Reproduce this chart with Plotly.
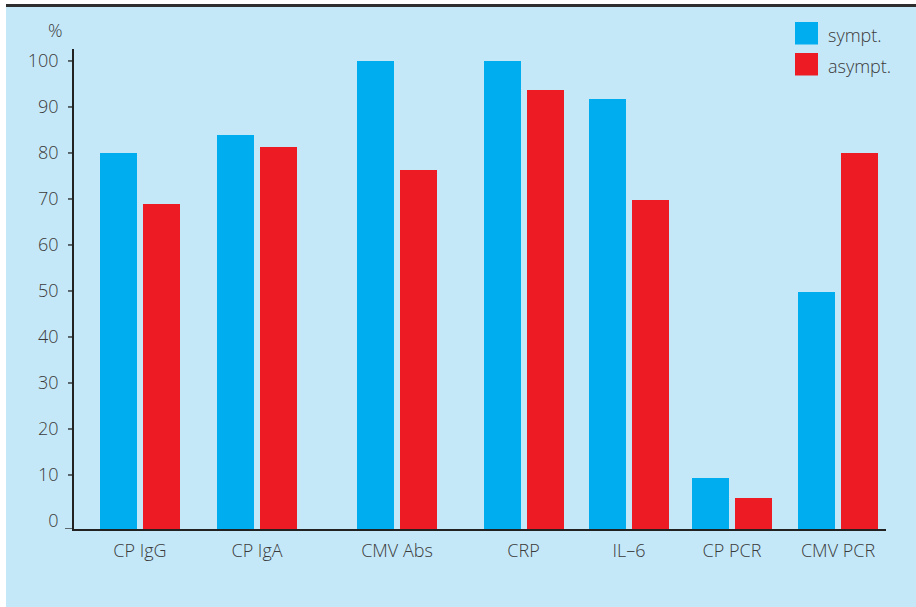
import plotly.graph_objects as go

# ---- data -------------------------------------------------------------
categories = ["CP IgG", "CP IgA", "CMV Abs", "CRP", "IL\u20136", "CP PCR", "CMV PCR"]
sympt = [80, 84, 100, 100, 91.7, 9.3, 49.8]
asympt = [69, 81.3, 76.3, 93.7, 69.8, 5, 80]
y_ticks = [0, 10, 20, 30, 40, 50, 60, 70, 80, 90, 100]
series_names = ["sympt.", "asympt."]

# ---- layout helpers ----------------------------------------------------
W, H = 916, 607
L, R, T, B = 74, 30, 49, 78            # plot area margins (px)
PW, PH = W - L - R, H - T - B

# group centres along the x axis (axis units == px inside the plot area)
group_x = [66, 183, 323, 449.5, 555, 658, 764]
half_gap = 21.5
bar_w = 37

Y_MIN, Y_MAX = -1.74, 102.6            # axis baseline sits a little below 0

BLUE = "#00aeef"
RED = "#ed1c24"
BG = "#c5e8f8"
TXT = "#3a3a3a"
FONT = "Open Sans"
FS = 18
FW = 300


def px_x(px):
    return (px - L) / PW


def px_y(py):
    return (H - B - py) / PH


fig = go.Figure()

for name, vals, color, sign in [
    (series_names[0], sympt, BLUE, -1),
    (series_names[1], asympt, RED, 1),
]:
    fig.add_trace(
        go.Bar(
            name=name,
            x=[gx + sign * half_gap for gx in group_x],
            y=[v - Y_MIN for v in vals],
            base=Y_MIN,
            width=bar_w,
            marker=dict(color=color, line=dict(width=0)),
            showlegend=False,
            hovertext=[f"{c}: {v}%" for c, v in zip(categories, vals)],
            hoverinfo="text",
        )
    )

shapes = [
    # panel background
    dict(type="rect", xref="paper", yref="paper", layer="below",
         x0=px_x(6), x1=px_x(W), y0=px_y(H), y1=px_y(7),
         fillcolor=BG, line=dict(width=0)),
    # rule along the top
    dict(type="line", xref="paper", yref="paper",
         x0=px_x(6), x1=px_x(W), y0=px_y(5.5), y1=px_y(5.5),
         line=dict(color="#2e2e2e", width=3)),
]

# y tick marks (0 sits on the baseline)
for v in y_ticks:
    yv = Y_MIN if v == 0 else v
    x0 = px_x(65) if v == 0 else px_x(68)
    shapes.append(dict(type="line", xref="paper", yref="y",
                       x0=x0, x1=0, y0=yv, y1=yv,
                       line=dict(color="#222222", width=1.3)))

font = dict(family=FONT, size=FS, color=TXT, weight=FW)

# legend swatches
legend_rows = [(series_names[0], BLUE, 22), (series_names[1], RED, 53)]
annotations = []
for name, color, top in legend_rows:
    shapes.append(dict(type="rect", xref="paper", yref="paper",
                       x0=px_x(795), x1=px_x(818), y0=px_y(top + 22.5), y1=px_y(top),
                       fillcolor=color, line=dict(width=0)))
    annotations.append(dict(xref="paper", yref="paper", x=px_x(826), y=px_y(top + 13),
                            text=name, showarrow=False, xanchor="left", yanchor="middle",
                            font=font))

annotations.append(dict(xref="paper", yref="paper", x=px_x(55), y=px_y(30),
                        text="%", showarrow=False, xanchor="center", yanchor="middle",
                        font=font))

fig.update_layout(
    width=W, height=H,
    margin=dict(l=L, r=R, t=T, b=B, pad=0),
    paper_bgcolor="white",
    plot_bgcolor="rgba(0,0,0,0)",
    bargap=0,
    shapes=shapes,
    annotations=annotations,
    xaxis=dict(
        range=[0, PW],
        tickvals=group_x,
        ticktext=categories,
        ticks="",
        showgrid=False, zeroline=False,
        showline=True, linecolor="#222222", linewidth=1.5,
        tickfont=font,
        ticklabelstandoff=5,
        fixedrange=True,
    ),
    yaxis=dict(
        range=[Y_MIN, Y_MAX],
        tickvals=y_ticks,
        ticks="",
        showgrid=False, zeroline=False,
        showline=True, linecolor="#222222", linewidth=1.5,
        tickfont=font,
        ticklabelstandoff=10,
        fixedrange=True,
    ),
)

fig.write_html("out.html")
